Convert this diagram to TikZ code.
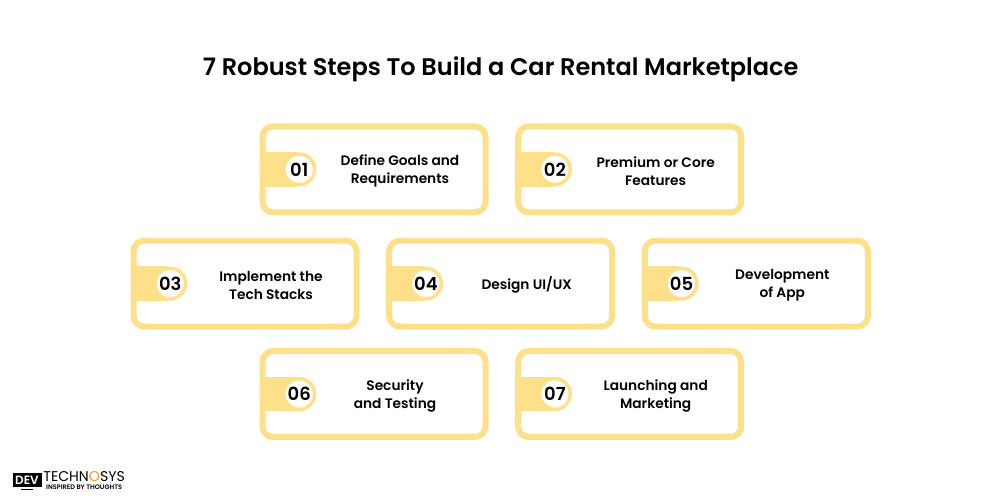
\documentclass[tikz,border=0pt]{standalone}
\usepackage{fontspec}
\setmainfont{Poppins}[BoldFont={Poppins SemiBold}]
\usepackage{tikz}
\usetikzlibrary{positioning}
\definecolor{stepyellow}{HTML}{FFE08A}
\definecolor{logoorange}{HTML}{F7941D}
\tikzset{
	stepbox/.style={draw=stepyellow, line width=4.5pt, rounded corners=8pt, fill=white, minimum width=167.25pt, minimum height=64.5pt},
	steptab/.style={fill=stepyellow, minimum width=28pt, minimum height=26pt, inner sep=0pt},
	stepnum/.style={circle, draw=stepyellow, line width=2.6pt, fill=white, minimum size=23pt, inner sep=0pt, font=\bfseries\fontsize{13.5}{13.5}\selectfont},
	steplabel/.style={align=center, font=\bfseries\fontsize{10.3}{13.5}\selectfont, inner sep=0pt},
}
\newcommand{\stepmark}[4][19.5pt]{
	\node[steptab, right=0pt of #2.west] (#2tab) {};
	\node[stepnum, right=17pt of #2.west] (#2num) {#3};
	\node[steplabel] (#2text) at ([xshift=#1, yshift=-1.2pt]#2.center) {#4};
}
\begin{document}
\begin{tikzpicture}[x=1pt, y=1pt]
	\useasboundingbox (0,0) rectangle (750,375);

	\node[font=\bfseries\fontsize{18}{18}\selectfont] (title) at (375.5,323) {7 Robust Steps To Build a Car Rental Marketplace};

	\node[stepbox] (box1) at (280.5,248) {};
	\node[stepbox, right=20pt of box1] (box2) {};
	\node[stepbox] (box4) at (375.5,162.3) {};
	\node[stepbox, left=20pt of box4] (box3) {};
	\node[stepbox, right=20pt of box4] (box5) {};
	\node[stepbox] (box6) at (280.5,79.5) {};
	\node[stepbox, right=20pt of box6] (box7) {};

	\stepmark{box1}{01}{Define Goals and\\Requirements}
	\stepmark{box2}{02}{Premium or Core\\Features}
	\stepmark{box3}{03}{Implement the\\Tech Stacks}
	\stepmark{box4}{04}{Design UI/UX}
	\stepmark{box5}{05}{Development\\of App}
	\stepmark[15.75pt]{box6}{06}{Security\\and Testing}
	\stepmark{box7}{07}{Launching and\\Marketing}

	% logo
	\node[fill=black, text=white, inner sep=0pt, minimum width=21.75pt, minimum height=10.7pt, font=\bfseries\fontsize{9}{9}\selectfont] (logodev) at (20.25,15) {DEV};
	\node[fill=black, inner sep=0pt, minimum width=9pt, minimum height=1.2pt, below=0.8pt of logodev] (logostand) {};
	\node[right=1pt of logodev, inner sep=0pt, font=\fontsize{10.6}{10.6}\selectfont, yshift=2.8pt] (logoname) {TECHN\textcolor{logoorange}{O}SYS};
	\node[below=2.4pt of logoname, inner sep=0pt, font=\bfseries\fontsize{4.9}{4.9}\selectfont] (logotag) {INSPIRED BY THOUGHTS};
\end{tikzpicture}
\end{document}
